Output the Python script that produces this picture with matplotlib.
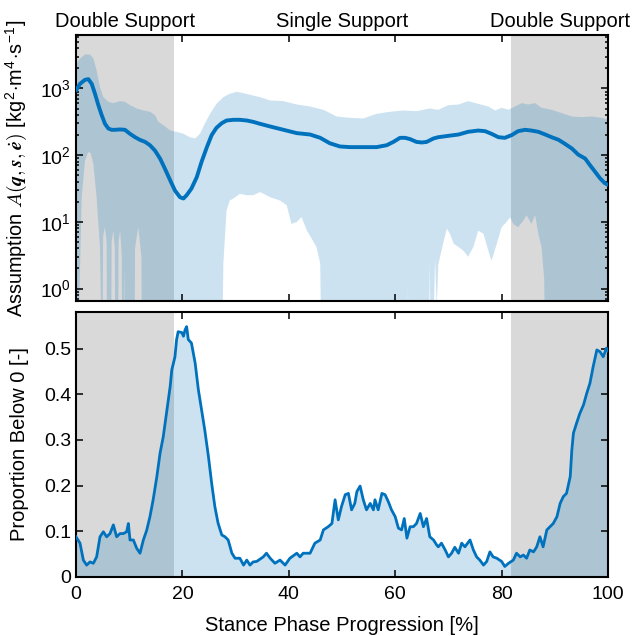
import numpy as np
import matplotlib
matplotlib.use("Agg")
import matplotlib.pyplot as plt
import matplotlib.transforms as mtransforms

plt.rcParams['font.family'] = ['Liberation Sans', 'DejaVu Sans']
plt.rcParams['mathtext.fontset'] = 'cm'
plt.rcParams['font.size'] = 14

# ---------------- data ----------------
phase_names = ["Double Support", "Single Support", "Double Support"]
phase_bounds = [0.0, 18.4, 81.8, 100.0]

# mean of A(q, s, e_dot)
mean_x = [0, 0.75, 1.69, 2.32, 2.95, 3.57, 4.2, 4.83, 5.45, 6.08, 6.7, 7.3, 8.27, 9.2,
          10.15, 11.1, 12.0, 13.0, 13.9, 14.85, 15.8, 16.7, 17.7, 18.6, 19.55, 20.2,
          20.8, 21.7, 22.7, 23.6, 24.6, 25.5, 26.4, 27.4, 28.3, 29.6, 30.8, 32.1, 33.3,
          34.6, 36.5, 39.0, 41.5, 44.0, 45.9, 47.7, 49.6, 51.5, 54.0, 56.5, 58.4, 59.65,
          60.9, 61.85, 62.8, 64.0, 65.0, 65.9, 67.2, 68.1, 70.0, 71.9, 73.7, 75.6, 76.9,
          78.1, 79.4, 80.6, 81.9, 83.1, 84.4, 85.6, 86.9, 88.2, 89.4, 90.7, 91.9, 93.2,
          94.4, 95.7, 96.6, 97.6, 98.5, 99.4, 100]
mean_y = [933, 1175, 1349, 1380, 1175, 832, 562, 398, 295, 251, 240, 240, 243, 240,
          209, 186, 170, 158, 141, 117, 89, 63, 42, 29.5, 23.4, 22.4,
          25.1, 31.6, 46.8, 79.4, 132, 200, 257, 302, 331, 339, 339, 331, 316,
          295, 269, 240, 214, 204, 182, 151, 135, 132, 132, 132, 141, 158,
          182, 182, 174, 158, 155, 158, 178, 186, 195, 204, 224, 234, 229,
          209, 186, 182, 200, 229, 240, 234, 224, 204, 186, 170, 148, 126,
          102, 89, 71, 56, 45, 38, 36]

# upper edge of the spread
upper_x = [0, 0.44, 1.07, 1.69, 2.63, 3.26, 3.88, 4.51, 5.14, 6.08, 7.02, 8.27, 9.21,
           10.15, 11.4, 12.66, 13.9, 14.85, 15.5, 16.4, 17.7, 18.9, 20.2, 21.4, 22.4,
           23.3, 24.2, 25.2, 26.4, 27.7, 28.9, 30.2, 31.5, 33.0, 34.6, 36.5, 39.0, 41.5,
           44.0, 46.5, 49.0, 51.5, 54.0, 56.5, 59.0, 61.5, 64.0, 66.5, 68.1, 70.0, 71.9,
           73.7, 75.6, 77.5, 78.8, 80.0, 81.3, 82.5, 83.8, 85.0, 86.3, 87.5, 89.4, 91.3,
           93.2, 95.0, 96.9, 98.8, 100]
upper_y = [2239, 2630, 2951, 3236, 3236, 2818, 1862, 1047, 741, 631, 603, 646, 631,
           562, 501, 468, 447, 398, 316, 282, 234, 224, 209, 186, 178,
           209, 295, 417, 589, 741, 832, 891, 851, 794, 741, 661, 646, 575,
           537, 479, 380, 363, 355, 417, 447, 468, 457, 501, 479, 562, 575,
           646, 589, 537, 468, 513, 479, 537, 603, 575, 603, 513, 479, 427,
           380, 372, 380, 363, 339]

# lower edge of the spread (values under the axis floor run off the bottom)
lower_x = [0, 0.3, 0.63, 1.07, 1.69, 2.32, 2.76, 3.26, 3.88, 4.5, 4.95, 5.1, 5.4, 5.76,
           5.85, 6.6, 6.7, 7.0, 7.3, 7.4, 7.9, 8.0, 8.3, 8.6, 8.7, 8.9, 9.05, 9.2, 11.0,
           11.1, 11.7, 12.3, 12.4, 27.4, 27.7, 28.3, 28.9, 29.6, 30.8, 32.1, 33.3, 34.6,
           36.5, 38.35, 39.6, 40.5, 41.5, 42.4, 43.4, 44.3, 45.2, 45.9, 46.2, 62.3, 62.4,
           62.5, 66.3, 66.5, 66.7, 67.0, 67.5, 67.8, 68.1, 69.0, 69.7, 70.3, 71.0, 71.9,
           72.8, 73.7, 74.7, 75.6, 76.6, 77.5, 78.1, 79.1, 80.0, 80.95, 81.6, 82.2, 83.1,
           84.1, 84.7, 85.6, 86.3, 86.9, 87.5, 88.0, 88.3, 100]
lower_y = [0.05, 0.05, 0.75, 23, 83, 112, 107, 74, 23, 4.2, 0.05, 6, 8.4, 5,
           0.05, 0.05, 5, 7.4, 4, 0.05, 0.05, 5, 7.4, 3, 0.05, 0.05, 2.3, 0.05, 0.05,
           4, 8.4, 3, 0.05, 0.05, 2.4, 14.8, 20.9, 22.4, 26.3, 25.1, 25.1, 28,
           23.4, 20.9, 17.8, 9.3, 10, 11.8, 7.4, 5.6, 4.2, 2.4, 0.05, 0.05, 1.2,
           0.05, 0.05, 2.5, 0.05, 0.05, 2.8, 0.5, 2.3, 4.7, 7.9, 6.6, 4.7, 4.2,
           3.7, 3.0, 4.2, 7.4, 6.6, 3.7, 2.6, 4.7, 8.3, 10, 11.7, 9.3, 8.3,
           10.5, 12.6, 9.3, 12.6, 6.6, 4.2, 1.4, 0.05, 0.05]

# proportion of samples below zero
prop_x = [0, 0.75, 1.38, 2.0, 2.63, 3.26, 3.88, 4.51, 5.14, 5.76, 6.39, 7.02, 7.64, 8.27,
          8.9, 9.52, 9.84, 10.15, 10.78, 11.4, 12.03, 12.66, 13.28, 13.9, 14.5, 15.2,
          15.8, 16.4, 17.0, 17.7, 18.0, 18.6, 18.9, 19.2, 19.9, 20.2, 20.5, 20.8, 21.1,
          21.7, 22.4, 23.0, 23.6, 24.2, 24.9, 25.5, 26.1, 26.7, 27.4, 28.0, 28.6, 29.3,
          29.9, 30.8, 31.5, 32.1, 32.7, 33.3, 33.96, 35.2, 35.8, 36.5, 37.4, 38.35, 39.3,
          40.2, 41.5, 42.1, 42.7, 44.0, 44.9, 45.9, 46.5, 47.4, 48.1, 48.7, 49.3, 49.9,
          50.6, 51.2, 51.8, 52.4, 52.8, 53.4, 54.0, 54.6, 55.3, 55.9, 56.2, 56.8, 57.5,
          58.1, 58.7, 59.3, 60.0, 60.6, 61.2, 61.7, 62.2, 62.8, 63.4, 64.0, 64.7, 65.3,
          65.9, 66.5, 67.2, 67.8, 68.1, 68.7, 69.4, 70.0, 70.6, 71.2, 71.9, 72.5, 73.1,
          74.06, 74.7, 75.3, 75.9, 76.6, 77.2, 77.8, 78.4, 79.1, 80.0, 80.6, 81.3, 82.2,
          82.8, 83.5, 84.1, 84.7, 85.3, 86.0, 86.6, 87.2, 87.8, 88.5, 89.1, 89.7, 90.4,
          91.0, 91.6, 92.2, 92.9, 93.2, 93.5, 94.1, 94.7, 95.4, 96.0, 96.6, 97.2, 97.9,
          98.5, 99.1, 99.7, 100]
prop_y = [0.088, 0.074, 0.037, 0.026, 0.033, 0.030, 0.044, 0.088, 0.099, 0.088, 0.095,
          0.114, 0.088, 0.095, 0.095, 0.099, 0.117, 0.081, 0.081, 0.063, 0.052, 0.081,
          0.102, 0.132, 0.169, 0.220, 0.271, 0.307, 0.358, 0.417, 0.453, 0.482, 0.519,
          0.537, 0.535, 0.527, 0.541, 0.548, 0.520, 0.512, 0.468, 0.410, 0.366, 0.322,
          0.263, 0.205, 0.154, 0.118, 0.092, 0.088, 0.081, 0.052, 0.041, 0.041, 0.026,
          0.037, 0.026, 0.033, 0.034, 0.044, 0.052, 0.041, 0.030, 0.037, 0.026, 0.041,
          0.052, 0.044, 0.052, 0.052, 0.074, 0.081, 0.103, 0.110, 0.117, 0.169, 0.125,
          0.154, 0.180, 0.183, 0.147, 0.161, 0.187, 0.199, 0.169, 0.147, 0.161, 0.147,
          0.169, 0.147, 0.183, 0.180, 0.165, 0.147, 0.132, 0.107, 0.103, 0.128, 0.085,
          0.110, 0.110, 0.117, 0.139, 0.110, 0.128, 0.088, 0.081, 0.070, 0.066, 0.074,
          0.059, 0.044, 0.052, 0.065, 0.052, 0.074, 0.066, 0.081, 0.059, 0.044, 0.037,
          0.026, 0.034, 0.055, 0.044, 0.041, 0.034, 0.023, 0.030, 0.037, 0.052, 0.044,
          0.048, 0.041, 0.059, 0.055, 0.066, 0.088, 0.066, 0.103, 0.110, 0.117, 0.132,
          0.161, 0.176, 0.183, 0.220, 0.278, 0.315, 0.337, 0.358, 0.377, 0.402, 0.424,
          0.460, 0.497, 0.493, 0.482, 0.501, 0.495]

x_ticks = [0, 20, 40, 60, 80, 100]
log_ticks = [1, 10, 100, 1000]
log_tick_labels = [r'$\mathregular{10^{0}}$', r'$\mathregular{10^{1}}$',
                   r'$\mathregular{10^{2}}$', r'$\mathregular{10^{3}}$']
prop_ticks = [0, 0.1, 0.2, 0.3, 0.4, 0.5]
prop_tick_labels = ['0', '0.1', '0.2', '0.3', '0.4', '0.5']

# ---------------- styling ----------------
line_color = '#0072BD'
band_alpha = 0.2
shade_color = '#D9D9D9'

fig = plt.figure(figsize=(6.36, 6.36), dpi=100)
ax1 = fig.add_axes([0.1195, 0.5267, 0.8365, 0.418])
ax2 = fig.add_axes([0.1195, 0.0928, 0.8365, 0.4166])

for ax in (ax1, ax2):
    ax.axvspan(phase_bounds[0], phase_bounds[1], color=shade_color, lw=0, zorder=0)
    ax.axvspan(phase_bounds[2], phase_bounds[3], color=shade_color, lw=0, zorder=0)
    for s in ax.spines.values():
        s.set_linewidth(1.5)
    ax.tick_params(which='both', direction='in', top=True, right=True, width=1.1)
    ax.tick_params(which='major', length=5, labelsize=14)
    ax.tick_params(which='minor', length=2.5)
    ax.tick_params(axis='x', which='major', pad=6.5)
    ax.set_xlim(0, 100)
    ax.set_xticks(x_ticks)

# top panel: spread band + mean
band_x = np.concatenate([upper_x, lower_x[::-1]])
band_y = np.concatenate([upper_y, lower_y[::-1]])
ax1.fill(band_x, band_y, color=line_color, alpha=band_alpha, lw=0, zorder=1)
ax1.plot(mean_x, mean_y, color=line_color, lw=2.8, zorder=3, solid_capstyle='round')
ax1.set_yscale('log')
ax1.set_ylim(0.65, 6300)
ax1.set_yticks(log_ticks)
ax1.set_yticklabels(log_tick_labels)
ax1.tick_params(axis='x', labelbottom=False)
ax1.set_ylabel(r'Assumption $A(\boldsymbol{q},\boldsymbol{s},\dot{\boldsymbol{e}})$ '
               r'[kg$^{\mathregular{2}}$$\cdot$m$^{\mathregular{4}}$$\cdot$s$^{\mathregular{-1}}$]',
               fontsize=14.3)
ax1.yaxis.set_label_coords(-0.088, 0.5)

trans = mtransforms.blended_transform_factory(ax1.transData, ax1.transAxes)
for i, name in enumerate(phase_names):
    xc = 0.5 * (phase_bounds[i] + phase_bounds[i + 1])
    ax1.text(xc, 1.03, name, transform=trans, ha='center', va='baseline', fontsize=14.5)

# bottom panel: proportion below zero
ax2.fill_between(prop_x, 0, prop_y, color=line_color, alpha=band_alpha, lw=0, zorder=1)
ax2.plot(prop_x, prop_y, color=line_color, lw=2.0, zorder=3)
ax2.set_ylim(0, 0.58)
ax2.set_yticks(prop_ticks)
ax2.set_yticklabels(prop_tick_labels)
ax2.set_ylabel('Proportion Below 0 [-]', fontsize=14.5)
ax2.yaxis.set_label_coords(-0.088, 0.5)
ax2.set_xlabel('Stance Phase Progression [%]', fontsize=14.5, labelpad=9)

fig.savefig('out.png', dpi=100)
